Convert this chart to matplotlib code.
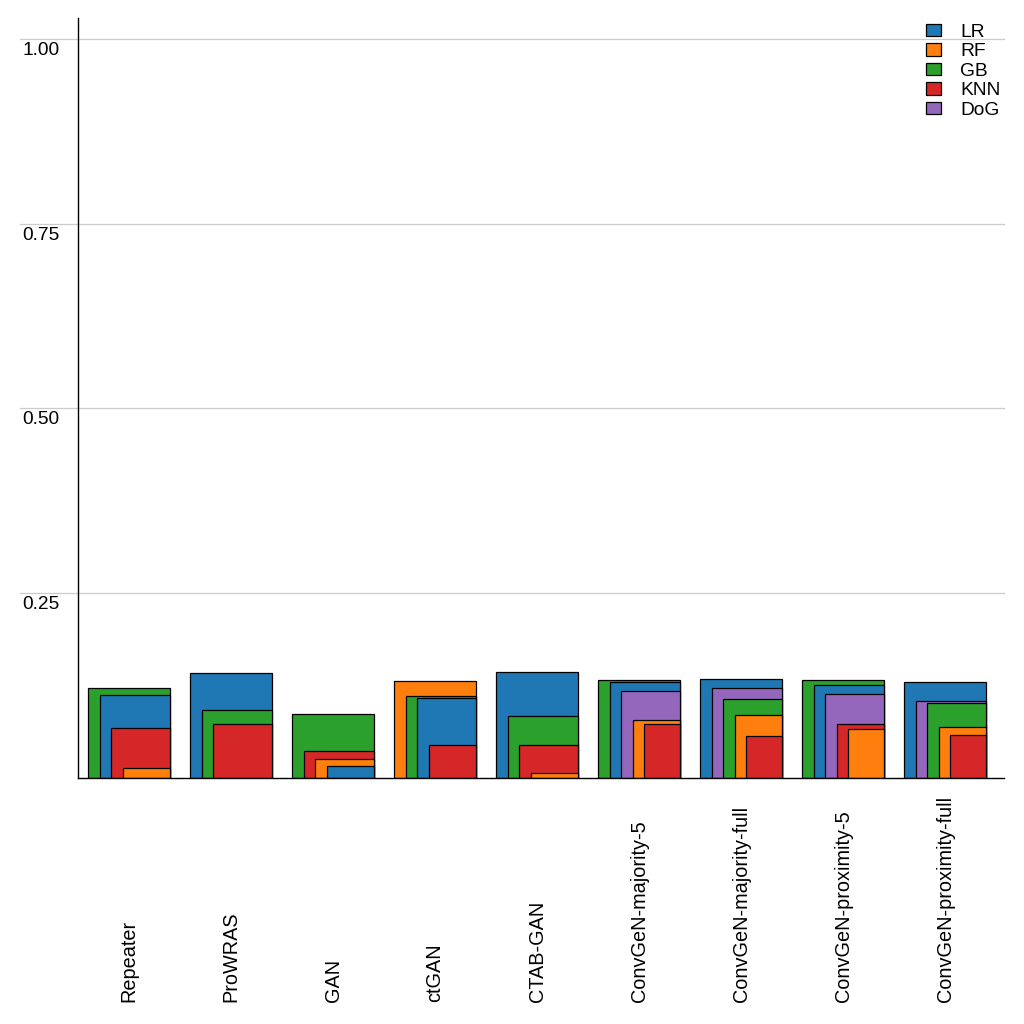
import numpy as np
import matplotlib
matplotlib.use('Agg')
import matplotlib.pyplot as plt
import matplotlib.transforms as mtransforms
from matplotlib.patches import Patch

plt.rcParams['font.family'] = ['Liberation Sans', 'DejaVu Sans']

methods = ['Repeater', 'ProWRAS', 'GAN', 'ctGAN', 'CTAB-GAN',
           'ConvGeN-majority-5', 'ConvGeN-majority-full',
           'ConvGeN-proximity-5', 'ConvGeN-proximity-full']
classifiers = ['LR', 'RF', 'GB', 'KNN', 'DoG']
colors = ['#1f77b4', '#ff7f0e', '#2ca02c', '#d62728', '#9467bd']

# one value per method, in the order of methods
lr  = [0.112, 0.1417, 0.0162, 0.1081, 0.1432, 0.1297, 0.1339, 0.1258, 0.1297]
rf  = [0.0131, 0.0,   0.0257, 0.131,  0.0064, 0.078,  0.0853, 0.0663, 0.0691]
gb  = [0.1218, 0.0917, 0.0866, 0.1108, 0.0838, 0.1325, 0.1069, 0.1325, 0.1015]
knn = [0.067, 0.0728, 0.0369, 0.0446, 0.0446, 0.0728, 0.0569, 0.0728, 0.0582]
dog = [0.0,   0.0,    0.0,    0.0,    0.0,    0.1175, 0.1218, 0.1137, 0.1042]

yticks = [0.25, 0.5, 0.75, 1.0]
ytick_labels = ['0.25', '0.50', '0.75', '1.00']

values = np.array([lr, rf, gb, knn, dog])

fig = plt.figure(figsize=(10.24, 10.24), dpi=100)
ax = fig.add_axes([78/1024, 1 - 778/1024, 926/1024, 760/1024])

group_w = 0.804
shift = 0.113

for g in range(len(methods)):
    col = values[:, g]
    order = np.argsort(-col, kind='stable')
    right = g + group_w
    for k, c in enumerate(order):
        if col[c] <= 0:
            continue
        left = g + k * shift
        ax.bar(left, col[c], width=right - left, align='edge',
               color=colors[c], edgecolor='black', linewidth=0.9, zorder=3)

ax.set_xlim(-10/102, 916/102)
ax.set_ylim(0, 760/739)

for sp in ['top', 'right']:
    ax.spines[sp].set_visible(False)
for sp in ['left', 'bottom']:
    ax.spines[sp].set_linewidth(1.0)
    ax.spines[sp].set_zorder(4)

ax.set_xticks([])
ax.set_yticks([])

# gridlines run out into the label column
for yv, lab in zip(yticks, ytick_labels):
    ax.axhline(yv, xmin=-58/926, xmax=1, color='#cccccc', linewidth=0.9,
               clip_on=False, zorder=1)
    tr = mtransforms.blended_transform_factory(fig.transFigure, ax.transData)
    tr = tr + mtransforms.ScaledTranslation(0, -3/100, fig.dpi_scale_trans)
    ax.text(22/1024, yv, lab, transform=tr, ha='left', va='top', fontsize=13.8)

# method labels anchored at the bottom of the figure
trx = mtransforms.blended_transform_factory(ax.transData, fig.transFigure)
for g, m in enumerate(methods):
    ax.text(g + group_w / 2, 1 - 1002/1024, m, transform=trx, rotation=90,
            ha='center', va='bottom', fontsize=14.3)

handles = [Patch(facecolor=c, edgecolor='black', linewidth=0.9) for c in colors]
fig.legend(handles, classifiers, loc='upper right',
           bbox_to_anchor=(1008/1024, 1 - 16/1024), frameon=False,
           fontsize=13.8, handlelength=0.8, handleheight=0.62,
           handletextpad=1.0, labelspacing=0.13, borderaxespad=0)

fig.savefig('out.png', dpi=100)
